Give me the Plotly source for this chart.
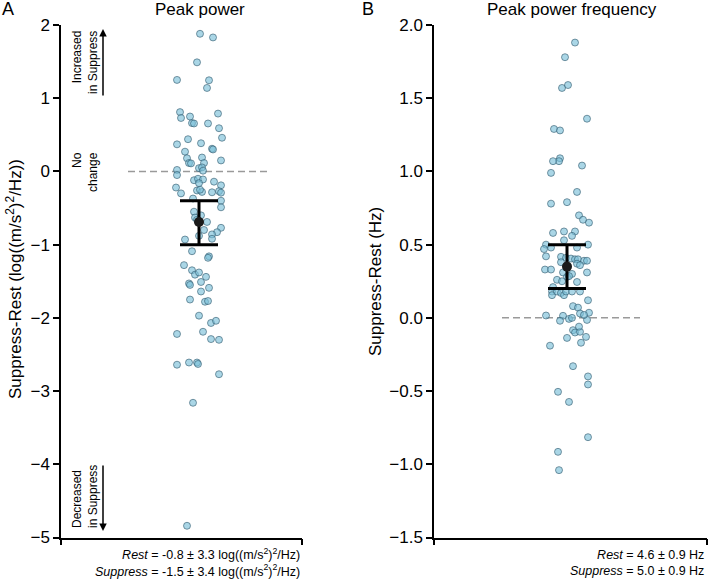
import plotly.graph_objects as go

# ---- data: Suppress - Rest differences, with horizontal jitter (strip plot) ----
# panel A: peak power, log((m/s^2)^2/Hz)
power_diff = [1.88, 1.83, 1.49, 1.25, 1.245, 1.14, 0.81, 0.79, 0.73, 0.75, 0.66, 0.655,
              0.655, 0.59, 0.46, 0.44, 0.37, 0.385, 0.31, 0.30, 0.27, 0.18, 0.19, 0.15,
              0.115, 0.11, 0.115, 0.02, 0.045, 0.055, 0.01, -0.05, -0.12, -0.10, -0.11,
              -0.14, -0.16, -0.22, -0.19, -0.26, -0.28, -0.25, -0.30, -0.285, -0.27, -0.29,
              -0.37, -0.40, -0.49, -0.55, -0.63, -0.66, -0.60, -0.69, -0.77, -0.83, -0.80,
              -0.86, -0.92, -0.88, -0.93, -1.09, -1.16, -1.18, -1.28, -1.35, -1.41, -1.38,
              -1.44, -1.53, -1.55, -1.51, -1.64, -1.59, -1.75, -1.78, -1.77, -1.97, -2.07,
              -2.04, -2.22, -2.19, -2.29, -2.30, -2.64, -2.61, -2.61, -2.63, -2.77, -3.16,
              -4.84]
power_jit = [1, 14, -2, -22, 10, 8, -19, 19, -18, -9, -7, -5,
             9, 20, 23, -11, -22, 2, 13, 14, -14, -12, 3, 22,
             -10, -8, 5, -22, 0, 3, 4, -22, -5, -1, 4,
             15, 0, -23, 22, -2, 3, 1, -18, 13, 20, 22,
             -6, 22, 22, -5, -4, -2, 2, 8, 22, 18, 5,
             13, 13, 0, -14, -7, 10, 9, -15, -7, -4, 0,
             7, -10, -9, 2, 2, 10, -9, 6, 9, 0, 12,
             17, -22, 4, 12, 20, -22, -10, -2, -1, 20, -6,
             -12]
power_mean = -0.69
power_ci_hi = 0.29
power_ci_lo = 0.31

# panel B: peak power frequency, Hz
freq_diff = [1.88, 1.78, 1.57, 1.59, 1.36, 1.29, 1.28, 1.09, 1.07, 1.07, 0.99, 1.04,
             0.86, 0.78, 0.79, 0.70, 0.67, 0.65, 0.58, 0.59, 0.59, 0.56, 0.53, 0.50,
             0.47, 0.48, 0.48, 0.50, 0.42, 0.417, 0.41, 0.405, 0.40, 0.40, 0.39, 0.39,
             0.38, 0.37, 0.36, 0.33, 0.33, 0.31, 0.30, 0.31, 0.28, 0.285, 0.26, 0.25,
             0.245, 0.21, 0.18, 0.155, 0.18, 0.17, 0.155, 0.18, 0.18, 0.18, 0.12, 0.08,
             0.07, 0.03, 0.035, 0.016, 0.014, -0.02, -0.007, 0.0, -0.014, 0.02, -0.084,
             -0.10, -0.095, -0.06, -0.13, -0.137, -0.17, -0.19, -0.33, -0.40, -0.455,
             -0.505, -0.574, -0.815, -0.915, -1.04]
freq_jit = [8, -2, -5, 1, 20, -13, -7, -7, -8, -14, -16, 15,
            10, -16, 0, 12, 16, 22, -14, -3, 8, 5, -3, -21,
            -23, -16, 10, 21, -21, -6, -1, 4, 8, 11, 17, 20,
            -6, 10, 13, -22, -16, -4, 5, 20, 0, 2, -10, -5,
            10, -14, -15, -15, -10, -6, -3, -1, 5, 13, 21, 6,
            11, 13, 22, -21, -4, -7, 2, 5, 20, 17, 6,
            8, 13, 12, 19, 0, 14, -17, 6, 21, 21,
            -9, 2, 21, -9, -8]
freq_mean = 0.35
freq_ci = 0.15

FONT = "Liberation Sans, Arial, sans-serif"
W, H = 709, 579


def px(x):
    return x / W


def py(y):
    return 1 - y / H


pt_marker = dict(size=7, color="rgba(125,192,216,0.65)",
                 line=dict(color="rgba(45,85,105,0.75)", width=0.8))

fig = go.Figure()

fig.add_trace(go.Scatter(x=power_jit, y=power_diff, mode="markers", marker=pt_marker,
                         xaxis="x", yaxis="y", showlegend=False))
fig.add_trace(go.Scatter(x=[0], y=[power_mean], mode="markers",
                         marker=dict(size=10, color="#1a1a1a"),
                         error_y=dict(type="data", symmetric=False, array=[power_ci_hi],
                                      arrayminus=[power_ci_lo], color="black",
                                      thickness=3, width=19),
                         xaxis="x", yaxis="y", showlegend=False))

fig.add_trace(go.Scatter(x=freq_jit, y=freq_diff, mode="markers", marker=pt_marker,
                         xaxis="x2", yaxis="y2", showlegend=False))
fig.add_trace(go.Scatter(x=[0], y=[freq_mean], mode="markers",
                         marker=dict(size=10, color="#1a1a1a"),
                         error_y=dict(type="data", array=[freq_ci], color="black",
                                      thickness=3, width=19),
                         xaxis="x2", yaxis="y2", showlegend=False))

# zero reference lines
dash = dict(color="#9a9a9a", width=1.5, dash="7px,4px")
fig.add_shape(type="line", xref="x", yref="y", x0=-71, x1=68, y0=0, y1=0, line=dash, layer="below")
fig.add_shape(type="line", xref="x2", yref="y2", x0=-65, x1=73, y0=0, y1=0, line=dash, layer="below")

ydom = [py(537.5), py(25)]
xax = dict(showline=True, linecolor="black", linewidth=1.5, ticks="outside", ticklen=6,
           tickwidth=1.5, tickcolor="black", showticklabels=False, showgrid=False,
           zeroline=False, fixedrange=True, automargin=False)
yax = dict(showline=True, linecolor="black", linewidth=1.5, ticks="outside", ticklen=6,
           tickwidth=1.5, tickcolor="black", showgrid=False, zeroline=False,
           tickfont=dict(size=17, color="black"), domain=ydom, automargin=False)

fig.update_layout(
    template="none",
    width=W, height=H,
    margin=dict(l=0, r=0, t=0, b=0, pad=0),
    paper_bgcolor="white", plot_bgcolor="white",
    font=dict(family=FONT, color="black"),
    xaxis=dict(xax, domain=[px(61), px(302)], range=[-138, 103], tickvals=[-138, 103]),
    yaxis=dict(yax, range=[-5, 2], tickvals=[-5, -4, -3, -2, -1, 0, 1, 2], anchor="x"),
    xaxis2=dict(xax, domain=[px(434), px(707)], range=[-133, 140], tickvals=[-133, 140],
                anchor="y2"),
    yaxis2=dict(yax, range=[-1.5, 2.0], tickvals=[-1.5, -1, -0.5, 0, 0.5, 1, 1.5, 2],
                ticktext=["\u22121.5", "\u22121.0", "\u22120.5", "0.0", "0.5", "1.0", "1.5", "2.0"],
                anchor="x2"),
)

ann = []
# panel letters and titles
ann.append(dict(x=px(8), y=py(9), text="A", font=dict(size=18)))
ann.append(dict(x=px(368), y=py(9), text="B", font=dict(size=18)))
ann.append(dict(x=px(200), y=py(9), text="Peak power", font=dict(size=17)))
ann.append(dict(x=px(572), y=py(9), text="Peak power frequency", font=dict(size=17)))

# y axis titles
ann.append(dict(x=px(14), y=py(279), textangle=-90, font=dict(size=17),
                text="Suppress-Rest (log((m/s<sup>2</sup>)<sup>2</sup>/Hz))"))
ann.append(dict(x=px(375), y=py(281), textangle=-90, font=dict(size=17),
                text="Suppress-Rest (Hz)"))

# direction hints
ann.append(dict(x=px(85), y=py(63), textangle=-90, font=dict(size=12), align="right",
                text="Increased<br>in Suppress"))
ann.append(dict(x=px(85), y=py(172), textangle=-90, font=dict(size=12), align="right",
                text="No<br>change"))
ann.append(dict(x=px(85), y=py(497), textangle=-90, font=dict(size=12), align="left",
                text="Decreased<br>in Suppress"))
ann.append(dict(x=px(103), y=py(29), ax=0, ay=68, text="", showarrow=True,
                arrowhead=2, arrowsize=1, arrowwidth=1.5, arrowcolor="black"))
ann.append(dict(x=px(103), y=py(531), ax=0, ay=-67, text="", showarrow=True,
                arrowhead=2, arrowsize=1, arrowwidth=1.5, arrowcolor="black"))

# summary statistics
ann.append(dict(x=px(302), y=py(562), xanchor="right", align="right", font=dict(size=12.5),
                text="<i>Rest</i> = -0.8 ± 3.3 log((m/s<sup>2</sup>)<sup>2</sup>/Hz)<br>"
                     "<i>Suppress</i> = -1.5 ± 3.4 log((m/s<sup>2</sup>)<sup>2</sup>/Hz)"))
ann.append(dict(x=px(706), y=py(563), xanchor="right", align="right", font=dict(size=12.5),
                text="<i>Rest</i> = 4.6 ± 0.9 Hz<br><i>Suppress</i> = 5.0 ± 0.9 Hz"))

for a in ann:
    a.setdefault("xref", "paper")
    a.setdefault("yref", "paper")
    a.setdefault("xanchor", "center")
    a.setdefault("yanchor", "middle")
    a.setdefault("showarrow", False)
    fig.add_annotation(**a)

fig.write_html("out.html", config={"displayModeBar": False},
               post_script="document.body.style.margin='0';")
